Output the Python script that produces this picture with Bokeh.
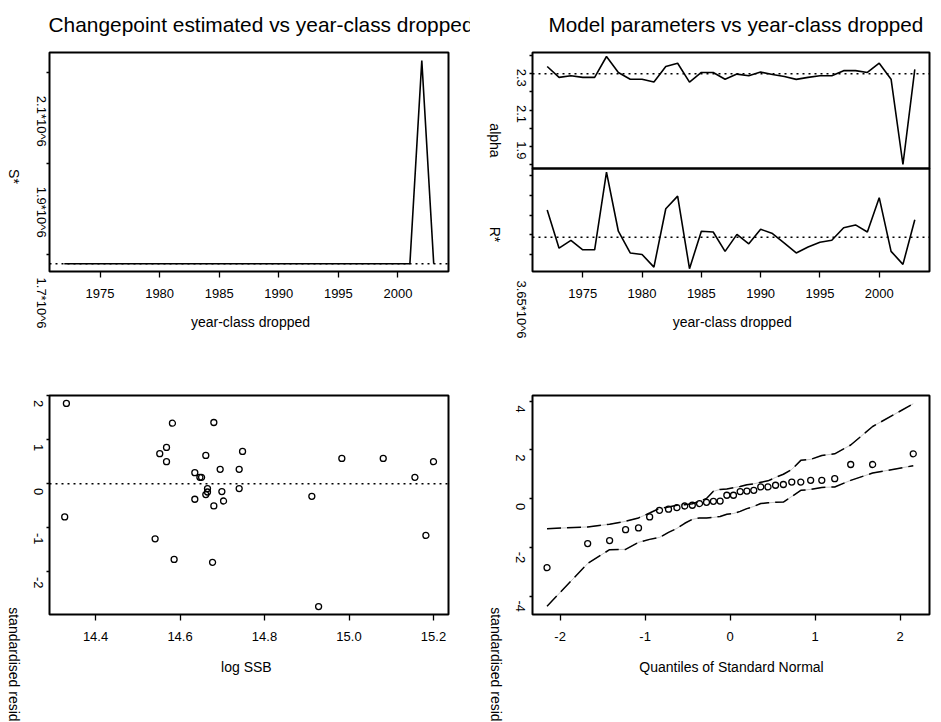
import math
from bokeh.plotting import figure
from bokeh.models import (Range1d, FixedTicker, Label, BoxAnnotation, LinearAxis,
                          NumeralTickFormatter)
from bokeh.layouts import row, column
from bokeh.embed import file_html
from bokeh.resources import INLINE

FONT = "Liberation Sans"

# ---------------- data ----------------
years = [1972, 1973, 1974, 1975, 1976, 1977, 1978, 1979, 1980, 1981, 1982,
         1983, 1984, 1985, 1986, 1987, 1988, 1989, 1990, 1991, 1992, 1993,
         1994, 1995, 1996, 1997, 1998, 1999, 2000, 2001, 2002, 2003]

s_star = [1.6795e6, 1.6795e6, 1.6795e6, 1.6795e6, 1.6795e6, 1.6795e6, 1.6795e6,
          1.6795e6, 1.6795e6, 1.6795e6, 1.6795e6, 1.6795e6, 1.6795e6, 1.6795e6,
          1.6795e6, 1.6795e6, 1.6795e6, 1.6795e6, 1.6795e6, 1.6795e6, 1.6795e6,
          1.6795e6, 1.6795e6, 1.6795e6, 1.6795e6, 1.6795e6, 1.6795e6, 1.6795e6,
          1.6795e6, 1.6795e6, 2.127e6, 1.6795e6]
s_star_full = 1.6795e6

alpha = [2.340, 2.280, 2.289, 2.280, 2.280, 2.395, 2.307, 2.270, 2.270, 2.254,
         2.340, 2.358, 2.254, 2.307, 2.307, 2.270, 2.298, 2.289, 2.309, 2.296,
         2.285, 2.269, 2.280, 2.289, 2.289, 2.317, 2.317, 2.307, 2.358, 2.270,
         1.800, 2.324]
alpha_full = 2.30

r_star = [3.763e6, 3.666e6, 3.686e6, 3.662e6, 3.662e6, 3.859e6, 3.709e6, 3.654e6,
          3.650e6, 3.618e6, 3.766e6, 3.798e6, 3.614e6, 3.709e6, 3.707e6, 3.658e6,
          3.701e6, 3.677e6, 3.714e6, 3.703e6, 3.679e6, 3.654e6, 3.669e6, 3.681e6,
          3.686e6, 3.718e6, 3.725e6, 3.707e6, 3.794e6, 3.658e6, 3.625e6, 3.738e6]
r_star_full = 3.694e6

log_ssb = [14.331, 14.327, 14.541, 14.552, 14.568, 14.568, 14.582, 14.586,
           14.635, 14.635, 14.647, 14.651, 14.661, 14.661, 14.665, 14.665,
           14.677, 14.680, 14.680, 14.695, 14.699, 14.703, 14.740, 14.740,
           14.748, 14.912, 14.928, 14.983, 15.081, 15.156, 15.182, 15.200]
std_resid = [1.82, -0.755, -1.253, 0.679, 0.821, 0.498, 1.371, -1.72,
             0.249, -0.355, 0.143, 0.143, 0.64, -0.249, -0.113, -0.19,
             -1.787, 1.387, -0.507, 0.324, -0.181, -0.394, 0.324, -0.113,
             0.731, -0.287, -2.79, 0.572, 0.572, 0.143, -1.176, 0.498]
resid_ref = 0.0

qq_theoretical = [-2.154, -1.676, -1.418, -1.230, -1.078, -0.947, -0.831, -0.725,
                  -0.626, -0.534, -0.445, -0.360, -0.278, -0.197, -0.118, -0.039,
                  0.039, 0.118, 0.197, 0.278, 0.360, 0.445, 0.534, 0.626,
                  0.725, 0.831, 0.947, 1.078, 1.230, 1.418, 1.676, 2.154]
qq_sorted_resid = [-2.83, -1.84, -1.72, -1.27, -1.20, -0.75, -0.48, -0.43,
                   -0.37, -0.30, -0.27, -0.20, -0.15, -0.11, -0.10, 0.14,
                   0.14, 0.29, 0.31, 0.34, 0.48, 0.48, 0.55, 0.58,
                   0.68, 0.68, 0.75, 0.75, 0.82, 1.40, 1.40, 1.84]
qq_env_lower = [-4.41, -2.66, -2.09, -2.08, -1.79, -1.67, -1.59, -1.38,
                -1.22, -1.01, -0.85, -0.79, -0.79, -0.77, -0.73, -0.64,
                -0.61, -0.52, -0.41, -0.32, -0.20, -0.17, -0.15, -0.14,
                0.09, 0.34, 0.38, 0.46, 0.48, 0.75, 1.05, 1.35]
qq_env_upper = [-1.23, -1.16, -1.05, -0.93, -0.79, -0.59, -0.40, -0.34,
                -0.27, -0.25, -0.21, -0.11, 0.01, 0.30, 0.38, 0.40,
                0.45, 0.50, 0.57, 0.61, 0.67, 0.73, 0.87, 1.00,
                1.20, 1.57, 1.61, 1.77, 1.84, 2.20, 2.96, 3.89]

# ticks and tick labels
year_ticks = [1975, 1980, 1985, 1990, 1995, 2000]
s_ticks = [2.1e6, 1.9e6, 1.7e6]
s_tick_labels = ["2.1*10^6", "1.9*10^6", "1.7*10^6"]
alpha_ticks = [2.4, 2.3, 2.2, 2.1, 2.0, 1.9, 1.8]
alpha_label_ticks = [2.3, 2.1, 1.9]
alpha_tick_labels = ["2.3", "2.1", "1.9"]
r_ticks = [3.85e6, 3.80e6, 3.75e6, 3.70e6, 3.65e6]
r_label_ticks = [3.65e6]
r_tick_labels = ["3.65*10^6"]
ssb_ticks = [14.4, 14.6, 14.8, 15.0, 15.2]
resid_ticks = [2, 1, 0, -1, -2]
resid_tick_labels = ["2", "1", "0", "-1", "-2"]
qq_x_ticks = [-2, -1, 0, 1, 2]
qq_y_ticks = [4, 2, 0, -2, -4]
qq_y_tick_labels = ["4", "2", "0", "-2", "-4"]

title_left = "Changepoint estimated vs year-class dropped"
title_right = "Model parameters vs year-class dropped"
xlab_year = "year-class dropped"
ylab_resid = "standardised residuals"

# ---------------- panel boxes (data limits of each plotting box) ----------------
YEAR_BOX = (1970.76, 2004.24)
S_BOX = (1.6626e6, 2.1447e6)
ALPHA_BOX = (1.778, 2.417)
R_BOX = (3.6069e6, 3.868e6)
SSB_BOX = (14.291, 15.2355)
RES_BOX = (-2.97, 2.0)
QX_BOX = (-2.325, 2.345)
QY_BOX = (-4.75, 4.23)

ROT = -math.pi / 2


def x_outer(px0, px1, d0, d1, W):
    s = (px1 - px0) / (d1 - d0)
    return d0 - px0 / s, d1 + (W - px1) / s


def y_outer(py_top, py_bot, d_bot, d_top, H):
    s = (py_bot - py_top) / (d_top - d_bot)
    return d_bot - (H - py_bot) / s, d_top + py_top / s


def make_fig(W, H, xb, yb, px_x, px_y):
    xr = x_outer(px_x[0], px_x[1], xb[0], xb[1], W)
    yr = y_outer(px_y[0], px_y[1], yb[0], yb[1], H)
    p = figure(width=W, height=H, x_range=Range1d(*xr), y_range=Range1d(*yr),
               output_backend="svg", toolbar_location=None, title=None,
               min_border=0, min_border_left=0, min_border_right=0,
               min_border_top=0, min_border_bottom=0)
    p.grid.visible = False
    p.outline_line_color = None
    p.background_fill_color = "white"
    p.border_fill_color = "white"
    return p


def style_yaxis(ax, ticks, loc):
    ax.fixed_location = loc
    ax.ticker = FixedTicker(ticks=ticks)
    ax.axis_line_color = None
    ax.major_tick_out = 3
    ax.major_tick_in = 0
    ax.minor_tick_out = 0
    ax.minor_tick_in = 0
    ax.major_tick_line_color = "black"
    ax.major_tick_line_width = 1.3
    ax.major_label_text_color = None


def style_xaxis(ax, ticks, loc, fmt=None):
    ax.fixed_location = loc
    ax.ticker = FixedTicker(ticks=ticks)
    if fmt is not None:
        ax.formatter = NumeralTickFormatter(format=fmt)
    ax.axis_line_color = None
    ax.major_tick_out = 6
    ax.major_tick_in = 0
    ax.minor_tick_out = 0
    ax.minor_tick_in = 0
    ax.major_tick_line_color = "black"
    ax.major_tick_line_width = 1.3
    ax.major_label_text_font = FONT
    ax.major_label_text_font_size = "13px"
    ax.major_label_text_color = "black"
    ax.major_label_standoff = 11


def box(p, xb, yb, yname="default"):
    p.add_layout(BoxAnnotation(left=xb[0], right=xb[1], bottom=yb[0], top=yb[1],
                               fill_color=None, fill_alpha=0, line_color="black",
                               line_alpha=1.0, line_width=2, y_range_name=yname))


def lab(p, text, x, y, xo=0.0, yo=0.0, size="13px", angle=0.0,
        align="center", baseline="middle", yname="default"):
    p.add_layout(Label(x=x, y=y, x_offset=xo, y_offset=yo, text=text,
                       angle=angle, text_font=FONT, text_font_size=size,
                       text_align=align, text_baseline=baseline,
                       text_color="black", y_range_name=yname))


def ref_seg(p, xb, v, yname="default"):
    p.segment(x0=[xb[0]], y0=[v], x1=[xb[1]], y1=[v], line_color="black",
              line_width=1.5, line_dash="2 4", y_range_name=yname)


# ---------------- top-left: S* ----------------
tl = make_fig(470, 361, YEAR_BOX, S_BOX, (49, 448), (52, 271))
style_yaxis(tl.yaxis[0], s_ticks, YEAR_BOX[0])
style_xaxis(tl.xaxis[0], year_ticks, S_BOX[0])
box(tl, YEAR_BOX, S_BOX)
ref_seg(tl, YEAR_BOX, s_star_full)
tl.line(years, s_star, line_color="black", line_width=1.6)
bx0, bx1 = YEAR_BOX
by0, by1 = S_BOX
lab(tl, title_left, bx0, by1, xo=-1, yo=28, size="20.9px", align="left", baseline="alphabetic")
lab(tl, "S*", bx0, by0, xo=-36, yo=95, size="14px", angle=ROT)
for t, s in zip(s_ticks, s_tick_labels):
    lab(tl, s, bx0, t, xo=-8, yo=-48.5, angle=ROT)
lab(tl, xlab_year, (bx0 + bx1) / 2, by0, xo=1.5, yo=-50.7, size="14px")

# ---------------- top-right: alpha (upper box) and R* (lower box) ----------------
tr = make_fig(471, 361, YEAR_BOX, ALPHA_BOX, (62, 459), (52, 168))
tr.extra_y_ranges = {"r": Range1d(*y_outer(168, 271, R_BOX[0], R_BOX[1], 361))}
a_scale = (168 - 52) / (ALPHA_BOX[1] - ALPHA_BOX[0])
alpha_at_271 = ALPHA_BOX[0] - (271 - 168) / a_scale
style_yaxis(tr.yaxis[0], alpha_ticks, YEAR_BOX[0])
r_axis = LinearAxis(y_range_name="r")
tr.add_layout(r_axis, "left")
style_yaxis(r_axis, r_ticks, YEAR_BOX[0])
style_xaxis(tr.xaxis[0], year_ticks, alpha_at_271)
box(tr, YEAR_BOX, ALPHA_BOX)
box(tr, YEAR_BOX, R_BOX, yname="r")
ref_seg(tr, YEAR_BOX, alpha_full)
ref_seg(tr, YEAR_BOX, r_star_full, yname="r")
tr.line(years, alpha, line_color="black", line_width=1.6)
tr.line(years, r_star, line_color="black", line_width=1.6, y_range_name="r")
lab(tr, title_right, bx0, ALPHA_BOX[1], xo=16, yo=28, size="20.7px", align="left",
    baseline="alphabetic")
lab(tr, "alpha", bx0, ALPHA_BOX[0], xo=-38, yo=28, size="14px", angle=ROT)
for t, s in zip(alpha_label_ticks, alpha_tick_labels):
    lab(tr, s, bx0, t, xo=-11, yo=-4, angle=ROT)
lab(tr, "R*", bx0, R_BOX[0], xo=-38, yo=37, size="14px", angle=ROT, yname="r")
for t, s in zip(r_label_ticks, r_tick_labels):
    lab(tr, s, bx0, t, xo=-11, yo=-55, angle=ROT, yname="r")
lab(tr, xlab_year, (bx0 + bx1) / 2, R_BOX[0], xo=1.2, yo=-50.7, size="14px", yname="r")

# ---------------- bottom-left: residuals vs log SSB ----------------
bl = make_fig(470, 361, SSB_BOX, RES_BOX, (49, 448), (34, 253))
style_yaxis(bl.yaxis[0], resid_ticks, SSB_BOX[0])
style_xaxis(bl.xaxis[0], ssb_ticks, RES_BOX[0], fmt="0.0")
box(bl, SSB_BOX, RES_BOX)
ref_seg(bl, SSB_BOX, resid_ref)
bl.scatter(log_ssb, std_resid, marker="circle", size=6, fill_color=None,
           line_color="black", line_width=1.3)
cx0, cx1 = SSB_BOX
cy0, cy1 = RES_BOX
for t, s in zip(resid_ticks, resid_tick_labels):
    lab(bl, s, cx0, t, xo=-11, yo=(-11 if t < 0 else -8), angle=ROT)
lab(bl, ylab_resid, cx0, cy0, xo=-36, yo=7.3, size="14px", angle=ROT, align="left")
lab(bl, "log SSB", (cx0 + cx1) / 2, cy0, xo=-2.6, yo=-52, size="14px")

# ---------------- bottom-right: normal QQ plot ----------------
br = make_fig(471, 361, QX_BOX, QY_BOX, (62, 459), (34, 253))
style_yaxis(br.yaxis[0], qq_y_ticks, QX_BOX[0])
style_xaxis(br.xaxis[0], qq_x_ticks, QY_BOX[0], fmt="0")
box(br, QX_BOX, QY_BOX)
for env in (qq_env_lower, qq_env_upper):
    br.line(qq_theoretical, env, line_color="#b4b4b4", line_width=0.8)
    br.line(qq_theoretical, env, line_color="black", line_width=1.5, line_dash="14 6")
br.scatter(qq_theoretical, qq_sorted_resid, marker="circle", size=6,
           fill_color=None, line_color="black", line_width=1.3)
qx0, qx1 = QX_BOX
qy0, qy1 = QY_BOX
for t, s in zip(qq_y_ticks, qq_y_tick_labels):
    lab(br, s, qx0, t, xo=-12, yo=(-10 if t < 0 else -8), angle=ROT)
lab(br, ylab_resid, qx0, qy0, xo=-37, yo=7.3, size="14px", angle=ROT, align="left")
lab(br, "Quantiles of Standard Normal", (qx0 + qx1) / 2, qy0, xo=0.5, yo=-52, size="14px")

layout = row(column(tl, bl), column(tr, br))

open("out.html", "w").write(file_html(layout, INLINE))
